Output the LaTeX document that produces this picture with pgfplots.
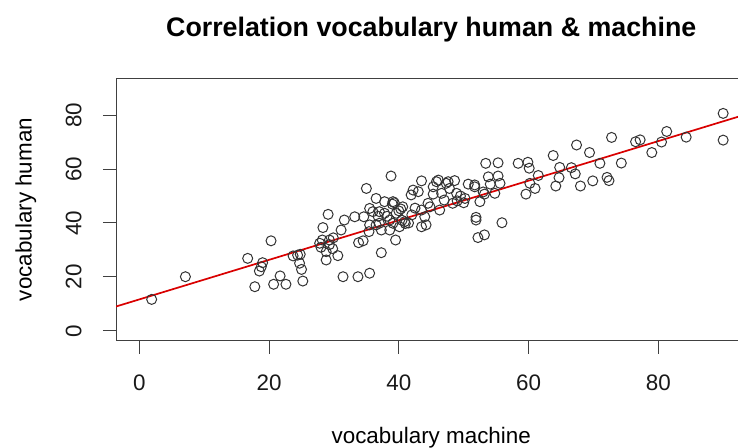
\documentclass[border=0pt]{standalone}
\usepackage{pgfplots}
\pgfplotsset{compat=1.18}
\usepackage{fontspec}
\setmainfont{Liberation Sans}
\pgfplotstableread{
x y
1.9 11.7
7.1 20.1
16.7 26.9
17.8 16.4
18.5 22.2
18.8 23.8
19.0 25.3
20.3 33.4
20.7 17.3
21.7 20.4
22.6 17.3
23.7 27.8
24.4 28.1
24.8 28.4
24.7 25.1
25.0 22.8
25.2 18.5
27.8 32.5
28.0 31.0
28.2 33.7
28.3 38.3
28.8 29.4
28.8 26.3
29.1 43.2
29.3 33.7
29.3 32.0
29.8 30.5
29.9 34.5
30.6 27.9
31.1 37.4
31.4 20.1
31.6 41.1
33.2 42.3
33.7 20.1
33.8 32.7
34.5 33.4
34.6 42.3
35.0 52.8
35.5 21.4
35.4 36.8
35.5 39.3
35.5 45.4
36.0 44.2
36.5 49.1
36.5 39.3
37.0 44.2
37.0 39.9
37.3 29.0
37.3 37.4
37.8 47.9
37.8 43.6
38.6 41.1
38.6 37.4
38.8 57.4
39.1 47.9
39.3 47.5
39.6 43.6
39.5 33.7
39.1 39.9
40.1 38.6
40.6 46.0
40.9 40.5
41.0 39.8
40.3 45.2
41.9 50.4
42.2 52.2
43.0 51.6
43.5 55.6
43.5 38.6
43.5 44.8
44.0 42.3
44.2 39.3
44.5 47.3
45.3 53.4
45.3 50.7
45.8 55.3
46.1 55.9
46.3 44.8
46.6 51.0
47.3 54.7
47.6 55.3
47.8 52.8
48.3 47.3
48.6 55.7
48.9 51.0
49.0 48.2
50.2 49.1
50.7 54.4
51.7 53.4
51.7 54.1
51.9 42.1
51.9 41.1
52.2 34.6
53.2 35.6
52.5 47.9
53.2 50.7
53.4 62.1
53.8 57.1
54.1 54.4
54.8 51.0
55.3 62.3
55.3 57.4
55.6 54.7
55.9 40.1
58.4 62.1
59.6 50.7
59.9 62.5
60.1 60.3
60.2 54.7
61.0 52.8
61.5 57.6
63.8 65.0
64.2 53.7
64.7 56.8
64.8 60.6
66.6 60.5
67.2 58.2
67.4 68.9
68.0 53.7
69.4 66.1
69.9 55.6
71.0 62.1
72.1 56.9
72.4 55.7
72.8 71.7
74.3 62.2
76.5 70.1
77.2 70.8
79.0 66.1
80.5 70.0
81.3 73.9
84.3 71.8
90.0 80.6
90.0 70.7
39.0 47.0
40.5 41.0
41.5 40.0
42.5 45.5
38.2 42.5
36.8 42.5
47.0 48.5
49.5 50.0
50.0 47.5
53.0 51.5
44.8 46.0
42.0 43.0
40.0 44.5
}\pointdata
\begin{document}
\begin{tikzpicture}[font=\fontsize{22.4bp}{26bp}\selectfont]
\path[use as bounding box] (0,0) rectangle (738bp,448bp);
\clip (0,0) rectangle (738bp,448bp);
\begin{axis}[
  at={(116bp,107.3bp)}, anchor=south west,
  scale only axis, width=630.5bp, height=262.4bp,
  xmin=-3.6, xmax=93.6, ymin=-3.6, ymax=93.6,
  xtick={0,20,40,60,80}, ytick={0,20,40,60,80},
  tick pos=left,
  tick align=outside, major tick length=13bp,
  axis line style={black!75, line width=1bp},
  every tick/.style={black!75, line width=1bp},
  /pgf/number format/assume math mode=true,
  tick label style={font=\fontsize{22.4bp}{26bp}\selectfont, inner sep=0pt, text=black!90},
  xticklabel style={anchor=north, yshift=-21.3bp},
  yticklabel style={xshift=-21.3bp, rotate=90, anchor=south},
  title={Correlation vocabulary human \& machine},
  title style={at={(axis description cs:0.5,1.138)}, anchor=base, inner sep=0pt,
    font=\bfseries\fontsize{26.8bp}{30bp}\selectfont},
  xlabel={vocabulary machine},
  xlabel style={at={(axis description cs:0.5,-0.3899)}, anchor=base, inner sep=0pt,
    font=\fontsize{22.4bp}{26bp}\selectfont},
  ylabel={vocabulary human},
  ylabel style={at={(axis description cs:-0.1337,0.5)}, anchor=base, inner sep=0pt,
    font=\fontsize{22.4bp}{26bp}\selectfont},
]
\addplot[only marks, mark=o, mark size=5bp,
  mark options={draw=black!80, line width=1bp}] table[x=x,y=y] {\pointdata};
\addplot[red!85!black, line width=1.7bp] coordinates {(-3.6,9.06) (93.6,80.3)};
\end{axis}
\end{tikzpicture}
\end{document}
